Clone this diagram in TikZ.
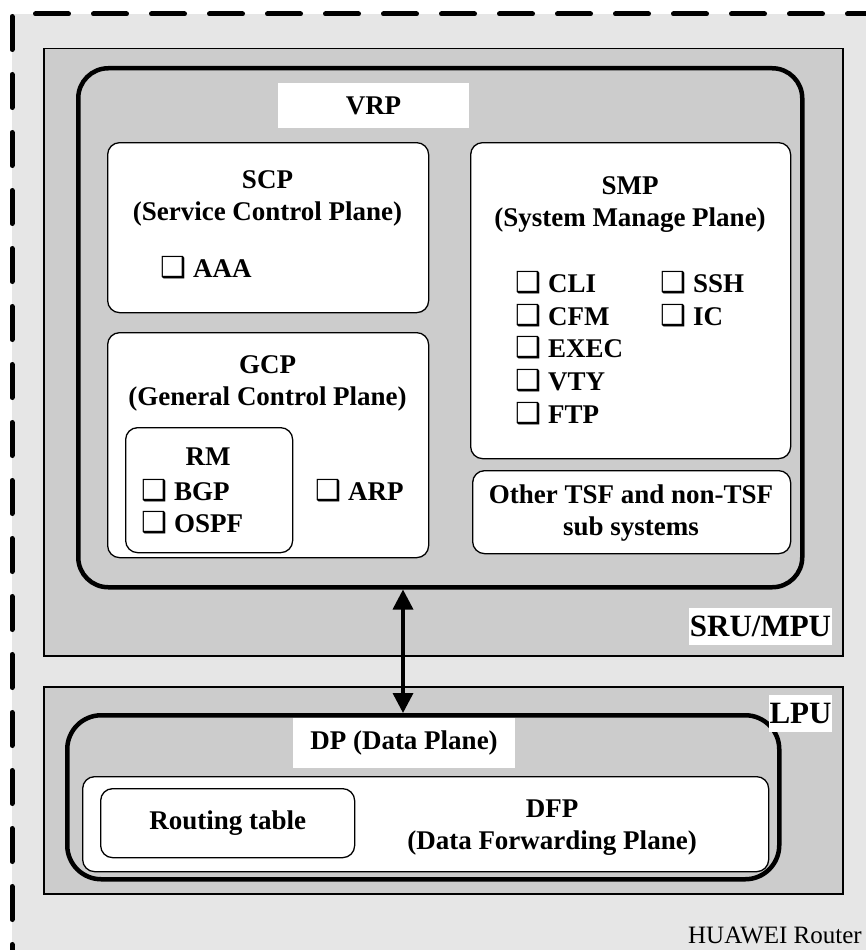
\documentclass[tikz,border=0pt]{standalone}
\usepackage{fontspec}
\setmainfont{Liberation Serif}
\newfontfamily\symfont{DejaVu Sans}
\usetikzlibrary{arrows.meta}

\definecolor{framefill}{HTML}{E6E6E6}
\definecolor{panelfill}{HTML}{CCCCCC}

% shadowed check box in front of each module name
\newcommand{\chk}{\makebox[31pt][l]{\hspace{-2pt}\symfont\fontsize{29}{29}\selectfont ❑}}

\begin{document}
\begin{tikzpicture}[
  x=1pt, y=-1pt,
  font=\bfseries\fontsize{27}{32}\selectfont,
  frameline/.style={line width=5pt, dash pattern=on 33pt off 25pt, line cap=round},
  panel/.style={draw, fill=panelfill, line width=1.5pt, anchor=north west, inner sep=0pt},
  plane/.style={draw, line width=4.5pt, rounded corners=30pt, anchor=north west, inner sep=0pt},
  subbox/.style={draw, fill=white, line width=1.3pt, rounded corners=12pt, anchor=north west, inner sep=0pt},
  tag/.style={fill=white, inner sep=0pt},
  title/.style={align=center, anchor=north, inner sep=0pt},
  item/.style={anchor=base west, inner sep=0pt},
  link/.style={line width=3.5pt, {Triangle[width=20pt,length=20pt]}-{Triangle[width=20pt,length=20pt]}}
]
\clip (0,0) rectangle (866,950);

% router frame
\fill[framefill] (12,14) rectangle (900,1000);
\draw[frameline, dash phase=34.5pt] (12,14) -- (900,14);
\draw[frameline] (12,16.5) -- (12,1000);

% boards
\node[panel, minimum width=799pt, minimum height=607pt] (sru) at (43,48) {};
\node[panel, minimum width=799pt, minimum height=207pt] (lpu) at (43,686) {};

% VRP
\node[plane, minimum width=724pt, minimum height=519pt] (vrp) at (76,66) {};
\node[tag, minimum width=191pt, minimum height=45pt] (vrplbl) at (373.5,105.5) {VRP};

% SCP
\node[subbox, minimum width=321pt, minimum height=170pt] (scp) at (107,142) {};
\node[title] (scpt) at (267.5,170) {SCP\\(Service Control Plane)};
\node[item] (aaa) at (162,277) {\chk AAA};

% GCP
\node[subbox, minimum width=321pt, minimum height=225pt] (gcp) at (107,332) {};
\node[title] (gcpt) at (267.5,355) {GCP\\(General Control Plane)};
\node[subbox, minimum width=167pt, minimum height=125pt] (rm) at (125,427) {};
\node[anchor=base, inner sep=0pt] (rmt) at (208,465) {RM};
\node[item] (bgp) at (143,500) {\chk BGP};
\node[item] (ospf) at (143,532) {\chk OSPF};
\node[item] (arp) at (317,500) {\chk ARP};

% SMP
\node[subbox, minimum width=320pt, minimum height=316pt] (smp) at (470,142) {};
\node[title] (smpt) at (630,176) {SMP\\(System Manage Plane)};
\node[item] (cli) at (517,292) {\chk CLI};
\node[item] (cfm) at (517,325) {\chk CFM};
\node[item] (exec) at (517,357) {\chk EXEC};
\node[item] (vty) at (517,390) {\chk VTY};
\node[item] (ftp) at (517,423) {\chk FTP};
\node[item] (ssh) at (662,292) {\chk SSH};
\node[item] (ic) at (662,325) {\chk IC};

% other subsystems
\node[subbox, minimum width=318pt, minimum height=83pt] (other) at (472,470) {};
\node[title] (othert) at (631,485) {Other TSF and non-TSF\\sub systems};

% data plane
\node[plane, rounded corners=34pt, minimum width=712pt, minimum height=164pt] (dp) at (65,713) {};
\node[tag, minimum width=222pt, minimum height=50pt] (dplbl) at (404,743) {DP (Data Plane)};
\node[subbox, minimum width=686pt, minimum height=95pt] (dfp) at (82,776) {};
\node[subbox, minimum width=254pt, minimum height=69pt] (rt) at (100,788) {Routing table};
\node[title] (dfpt) at (552,800) {DFP\\(Data Forwarding Plane)};

% board names
\node[tag, minimum width=143pt, minimum height=37pt, font=\bfseries\fontsize{31}{31}\selectfont] (srulbl) at (760.5,626.5) {SRU/MPU};
\node[tag, minimum width=63pt, minimum height=37pt, font=\bfseries\fontsize{31}{31}\selectfont] (lpulbl) at (800.5,713.5) {LPU};

% control/data link
\coordinate (ax) at (403,0);
\draw[link] (vrp.south -| ax) -- (dp.north -| ax);

\node[anchor=base east, inner sep=0pt, font=\mdseries\fontsize{25}{25}\selectfont] (router) at (862,943) {HUAWEI Router};
\end{tikzpicture}
\end{document}
